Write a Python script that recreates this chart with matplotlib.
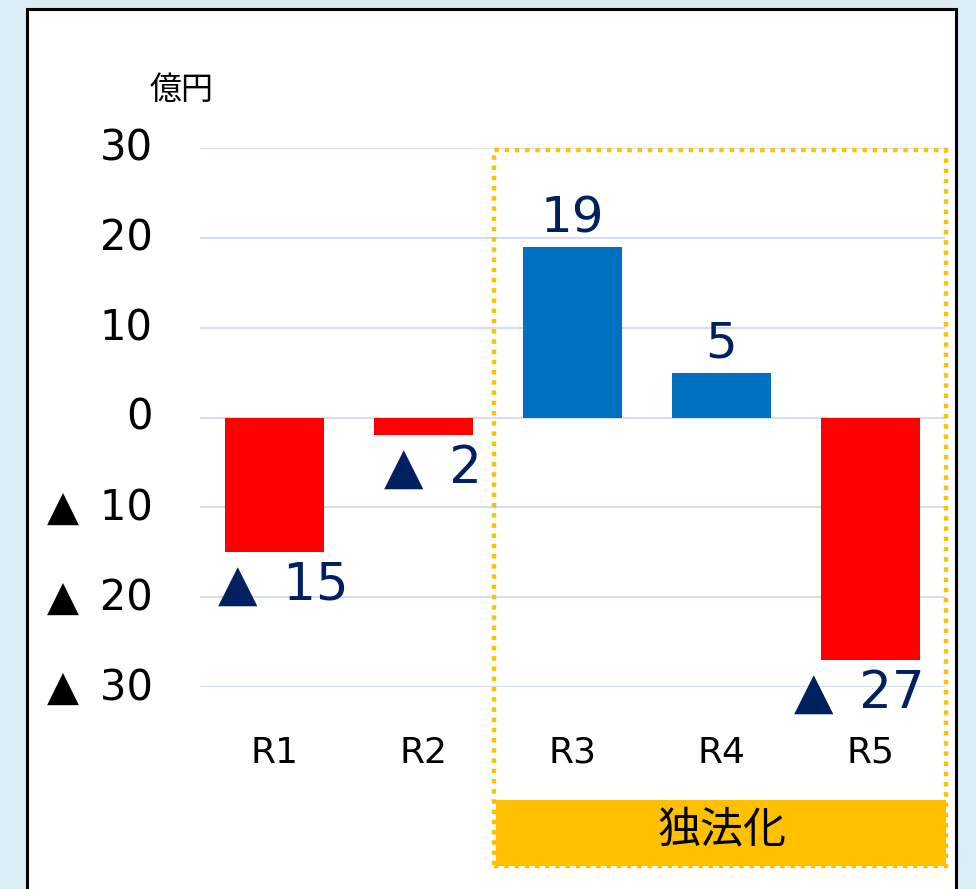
import matplotlib
matplotlib.use("Agg")
import matplotlib.pyplot as plt
from matplotlib.patches import Rectangle
from matplotlib.transforms import ScaledTranslation

# data
categories = ["R1", "R2", "R3", "R4", "R5"]
values = [-15, -2, 19, 5, -27]
y_ticks = [30, 20, 10, 0, -10, -20, -30]

W, H = 976, 889
fig = plt.figure(figsize=(W / 100, H / 100), dpi=100)
fig.patch.set_facecolor("#DAEDF4")

def fx(px):
    return px / W

def fy(py):
    return 1 - py / H

def fmt(v):
    # negative numbers are written with a triangle, Japanese style
    return str(v) if v >= 0 else "▲\u2002" + str(-v)

# white panel with black border
fig.patches.append(Rectangle((fx(27), fy(900)), fx(956) - fx(27), fy(9) - fy(900),
                             transform=fig.transFigure, facecolor="white",
                             edgecolor="black", linewidth=2.2, zorder=-10))

ax = fig.add_axes([fx(200), fy(687), fx(945) - fx(200), fy(148) - fy(687)])
ax.set_facecolor("none")

x = range(len(categories))
colors = ["#0070C0" if v >= 0 else "#FF0000" for v in values]
ax.bar(x, values, width=0.67, color=colors, zorder=3)

ax.set_xlim(-0.5, len(categories) - 0.5)
ax.set_ylim(-30, 30)
ax.set_yticks(y_ticks)
ax.set_yticklabels([fmt(v) for v in y_ticks], fontsize=30, family="DejaVu Sans")
ax.set_xticks(list(x))
ax.set_xticklabels(categories, fontsize=26, family="DejaVu Sans")
ax.tick_params(axis="y", length=0, pad=34)
ax.tick_params(axis="x", length=0, pad=35)
for lab in ax.get_yticklabels():
    lab.set_transform(lab.get_transform() + ScaledTranslation(0, 0.04, fig.dpi_scale_trans))
ax.grid(axis="y", color="#D6DEEC", linewidth=1.5, zorder=0)
for s in ax.spines.values():
    s.set_visible(False)

# value labels
labels = []
for i, v in enumerate(values):
    if v >= 0:
        t = ax.text(i, v + 3.2, fmt(v), ha="center", va="center", fontsize=36,
                    color="#002060", family="DejaVu Sans")
    else:
        t = ax.text(i + 0.06, v - 3.7, fmt(v), ha="center", va="center", fontsize=37,
                    color="#002060", family="DejaVu Sans")
    labels.append(t)

# keep labels inside the plot area (pull back ones that run past the right edge)
fig.canvas.draw()
ax_right = ax.get_window_extent().x1 - 20
for t in labels:
    bb = t.get_window_extent()
    if bb.x1 > ax_right:
        t.set_transform(t.get_transform() +
                        ScaledTranslation(-(bb.x1 - ax_right) / 100, 0, fig.dpi_scale_trans))

# unit label
fig.text(fx(182), fy(90), "億円", ha="center", va="center", fontsize=23,
         family=["Noto Sans CJK JP", "DejaVu Sans"])

# dotted highlight box and its label band
fig.patches.append(Rectangle((fx(494), fy(866)), fx(946) - fx(494), fy(150) - fy(866),
                             transform=fig.transFigure, facecolor="none",
                             edgecolor="#FFC000", linewidth=3.2,
                             linestyle=(0, (1, 1.3)), zorder=5))
fig.patches.append(Rectangle((fx(496), fy(866)), fx(946) - fx(496), fy(800) - fy(866),
                             transform=fig.transFigure, facecolor="#FFC000",
                             edgecolor="none", zorder=4))
fig.text(fx(722), fy(830), "独法化", ha="center", va="center", fontsize=31,
         family=["Noto Sans CJK JP", "DejaVu Sans"], zorder=6)

fig.savefig("out.png", dpi=100, facecolor=fig.get_facecolor())
